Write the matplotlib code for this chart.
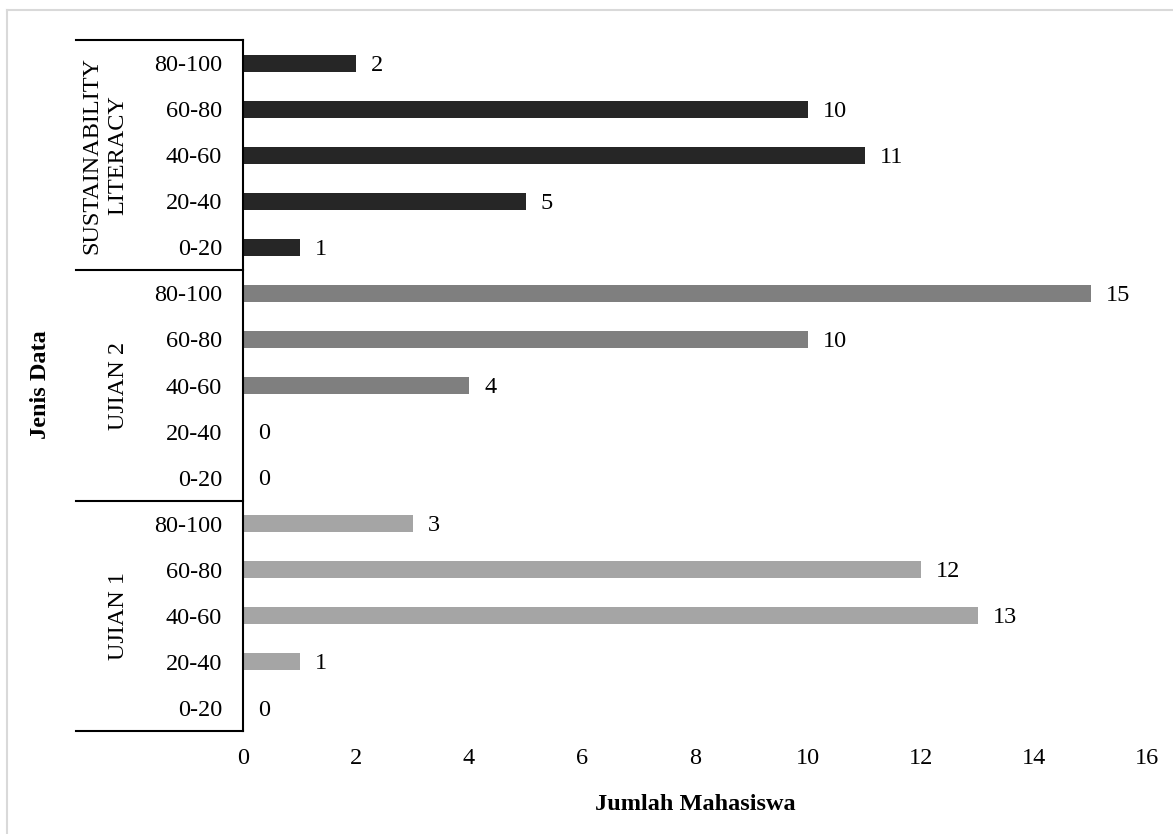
import matplotlib.pyplot as plt
from matplotlib.lines import Line2D
import matplotlib.transforms as mtransforms

plt.rcParams['font.family'] = ['Liberation Serif', 'DejaVu Serif']

# Data per kelompok (urutan dari bawah ke atas)
rentang = ['0-20', '20-40', '40-60', '60-80', '80-100']
ujian_1 = [0, 1, 13, 12, 3]
ujian_2 = [0, 0, 4, 10, 15]
sustainability = [1, 5, 11, 10, 2]

kelompok = ['UJIAN 1', 'UJIAN 2', 'SUSTAINABILITY\nLITERACY']
cores = ['#a5a5a5', '#7f7f7f', '#262626']
nilai = [ujian_1, ujian_2, sustainability]

FS = 17.5
W, H = 1173, 834
fig = plt.figure(figsize=(W / 100, H / 100), dpi=100)
ax = fig.add_axes([243 / W, 1 - 731 / H, (1147 - 243) / W, (731 - 40) / H])

posisi = []
labels = []
for g, (vals, cor) in enumerate(zip(nilai, cores)):
    ys = [g * len(rentang) + i for i in range(len(rentang))]
    ax.barh(ys, vals, height=0.37, color=cor)
    for y, v in zip(ys, vals):
        ax.annotate(str(v), (v, y), xytext=(11, -1.5), textcoords='offset points',
                    va='center', ha='left', fontsize=FS)
    posisi += ys
    labels += rentang

ax.set_yticks(posisi)
ax.set_yticklabels(labels, fontsize=FS)
ax.set_ylim(-0.5, len(posisi) - 0.5)
ax.set_xlim(0, 16)
ax.set_xticks(range(0, 17, 2))
ax.tick_params(axis='x', length=0, pad=12, labelsize=FS)
ax.tick_params(axis='y', length=0, pad=15)

for s in ['top', 'right', 'bottom']:
    ax.spines[s].set_visible(False)
ax.spines['left'].set_linewidth(1.5)

# Garis pemisah kelompok dan label kelompok di sumbu kategori
trans = mtransforms.blended_transform_factory(ax.transAxes, ax.transData)
x_kiri = (76 - 243) / (1147 - 243)
for b in [-0.5, 4.5, 9.5, 14.5]:
    ax.add_line(Line2D([x_kiri, 0], [b, b], transform=trans, color='black',
                       lw=1.5, clip_on=False))
x_label = [(118 - 243) / 904, (118 - 243) / 904, (105 - 243) / 904]
for g, nama in enumerate(kelompok):
    ax.text(x_label[g], g * 5 + 2, nama, transform=trans, rotation=90,
            ha='center', va='center', fontsize=FS, linespacing=1.3)

ax.set_xlabel('Jumlah Mahasiswa', fontsize=FS, fontweight='bold', labelpad=18)
fig.text(40 / W, 1 - 385 / H, 'Jenis Data', rotation=90, ha='center',
         va='center', fontsize=FS, fontweight='bold')

# Bingkai tipis di sekitar grafik
fig.add_artist(Line2D([7 / W, 7 / W], [0, 1 - 10 / H], color='#d9d9d9', lw=1.5))
fig.add_artist(Line2D([7 / W, 1], [1 - 10 / H, 1 - 10 / H], color='#d9d9d9', lw=1.5))

fig.savefig('out.png', dpi=100)
